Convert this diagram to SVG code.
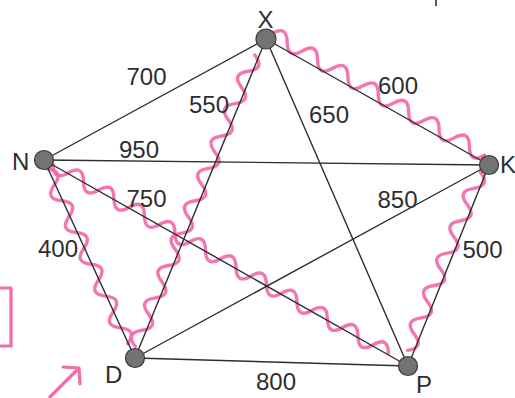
<svg xmlns="http://www.w3.org/2000/svg" width="515" height="398" viewBox="0 0 515 398">
<style>
.edge{stroke:#2e2e2e;stroke-width:1.4;fill:none;stroke-linecap:round}
.wave{stroke:#f36aa9;stroke-width:3.4;fill:none;stroke-linecap:round;stroke-linejoin:round;opacity:0.92}
.node{fill:#737373;stroke:#3a3a3a;stroke-width:1.2}
.lbl{font-family:"Liberation Sans",Arial,sans-serif;font-size:24px;fill:#2e2e2e;text-anchor:middle}
.nm{font-family:"Liberation Sans",Arial,sans-serif;font-size:24px;fill:#2e2e2e}
.mark{stroke:#f36aa9;stroke-width:3.2;fill:none;stroke-linecap:round;stroke-linejoin:round}
</style>
<rect width="515" height="398" fill="#ffffff"/>
<g id="annotations">
<path class="mark" d="M0,288 L11,288 L11,346 L0,346"/>
<path class="mark" d="M50,397 L78,369 M63,367 L79,368 L80,384"/>
<path d="M436,0 L436,6" stroke="#2e2e2e" stroke-width="1.6"/>
</g>
<g id="highlight">
<path class="wave" transform="translate(270,37) rotate(29.8) translate(0,-4)" d="M0,0 q8.75,-15 17.5,0 t17.5,0 t17.5,0 t17.5,0 t17.5,0 t17.5,0 t17.5,0 t17.5,0 t17.5,0 t17.5,0 t17.5,0 t17.5,0 t17.5,0 t17.5,0"/>
<path class="wave" transform="translate(485,174) rotate(112.2) translate(0,5)" d="M0,0 q8.75,-15 17.5,0 t17.5,0 t17.5,0 t17.5,0 t17.5,0 t17.5,0 t17.5,0 t17.5,0 t17.5,0 t17.5,0 t17.5,0"/>
<path class="wave" transform="translate(52,166) rotate(29.4) translate(0,-2)" d="M0,0 q8.75,15 17.5,0 t17.5,0 t17.5,0 t17.5,0 t17.5,0 t17.5,0 t17.5,0 t17.5,0 t17.5,0 t17.5,0 t17.5,0 t17.5,0 t17.5,0 t17.5,0 t17.5,0 t17.5,0 t17.5,0 t17.5,0 t17.5,0 t17.5,0 t17.5,0 t17.5,0"/>
<path class="wave" transform="translate(47,169) rotate(65.2)" d="M0,0 q8.75,-15 17.5,0 t17.5,0 t17.5,0 t17.5,0 t17.5,0 t17.5,0 t17.5,0 t17.5,0 t17.5,0 t17.5,0 t17.5,0"/>
<path class="wave" transform="translate(139,348) rotate(-67.7) translate(0,-4)" d="M0,0 q8.75,-15 17.5,0 t17.5,0 t17.5,0 t17.5,0 t17.5,0 t17.5,0 t17.5,0 t17.5,0 t17.5,0 t17.5,0 t17.5,0 t17.5,0 t17.5,0 t17.5,0 t17.5,0 t17.5,0 t17.5,0 t17.5,0"/>
</g>
<g id="connectors">
<line class="edge" x1="44" y1="160" x2="266" y2="39"/>
<line class="edge" x1="266" y1="39" x2="135" y2="358"/>
<line class="edge" x1="266" y1="39" x2="408" y2="366"/>
<line class="edge" x1="266" y1="39" x2="489" y2="165"/>
<line class="edge" x1="44" y1="160" x2="489" y2="165"/>
<line class="edge" x1="44" y1="160" x2="408" y2="366"/>
<line class="edge" x1="44" y1="160" x2="135" y2="358"/>
<line class="edge" x1="135" y1="358" x2="489" y2="165"/>
<line class="edge" x1="489" y1="165" x2="408" y2="366"/>
<line class="edge" x1="135" y1="358" x2="408" y2="366"/>
<text class="lbl" x="146.5" y="85">700</text>
<text class="lbl" x="209" y="113">550</text>
<text class="lbl" x="329" y="123">650</text>
<text class="lbl" x="398" y="94">600</text>
<text class="lbl" x="139" y="158">950</text>
<text class="lbl" x="146.5" y="207">750</text>
<text class="lbl" x="397.5" y="208">850</text>
<text class="lbl" x="58" y="257">400</text>
<text class="lbl" x="482.5" y="258">500</text>
<text class="lbl" x="276" y="390">800</text>
</g>
<g id="node-X"><circle class="node" cx="266" cy="39" r="10"/><text class="lbl" x="265.5" y="28">X</text></g>
<g id="node-N"><circle class="node" cx="44" cy="160" r="9.5"/><text class="nm" x="12" y="170">N</text></g>
<g id="node-K"><circle class="node" cx="489" cy="165" r="9.5"/><text class="nm" x="500" y="173">K</text></g>
<g id="node-D"><circle class="node" cx="135" cy="358" r="9.5"/><text class="nm" x="105" y="383">D</text></g>
<g id="node-P"><circle class="node" cx="408" cy="366" r="9.5"/><text class="nm" x="416" y="393">P</text></g>
</svg>
